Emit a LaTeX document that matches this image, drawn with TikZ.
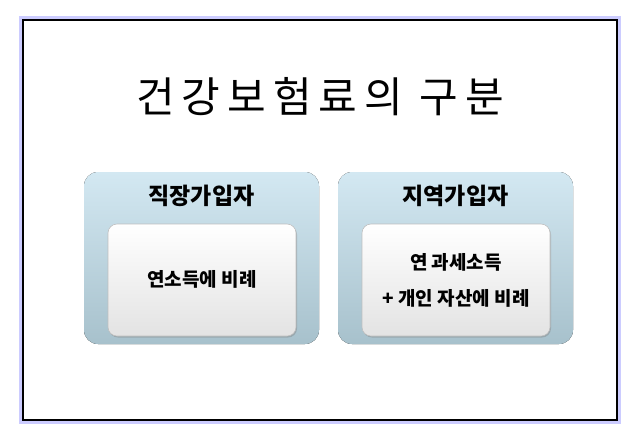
\documentclass[tikz,border=0pt]{standalone}
\usepackage{fontspec}
\newfontfamily\kr{Noto Sans CJK KR}
\usetikzlibrary{shadows}
\definecolor{boxtop}{HTML}{D3E8F2}
\definecolor{boxbot}{HTML}{A7C1CC}
\tikzset{
 outerbox/.style={rounded corners=14pt, top color=boxtop, bottom color=boxbot, draw=none},
 innerbox/.style={rounded corners=9pt, top color=white, bottom color=gray!22, draw=gray!50, line width=0.6pt, drop shadow={shadow xshift=1pt,shadow yshift=-1.5pt,opacity=0.4}},
 hdr/.style={font=\kr\bfseries\fontsize{23}{26}\selectfont},
 body/.style={font=\kr\bfseries\fontsize{19}{36}\selectfont, align=center}
}
\begin{document}
\begin{tikzpicture}[x=1pt,y=-1pt]
\useasboundingbox[fill=white] (0,0) rectangle (642,440);
\draw[draw=blue!20, line width=4pt] (21,18) rectangle (619,422);
\draw[line width=2.2pt] (23,20) rectangle (617,420);
\node[font=\kr\fontsize{42}{46}\selectfont] (title) at (320,97) {건\,강\,보\,험\,료\,의\, 구\,분};
\fill[outerbox] (84,172) rectangle (319,344);
\fill[outerbox] (338,172) rectangle (573,344);
\node[hdr] (h1) at (201.5,196) {직장가입자};
\node[hdr] (h2) at (455.5,196) {지역가입자};
\path[innerbox] (108,224) rectangle (296,336);
\path[innerbox] (362,224) rectangle (550,336);
\node[body] (b1) at (202,279) {연소득에 비례};
\node[body] (b2) at (456,280) {연 과세소득\\+ 개인 자산에 비례};
\end{tikzpicture}
\end{document}
